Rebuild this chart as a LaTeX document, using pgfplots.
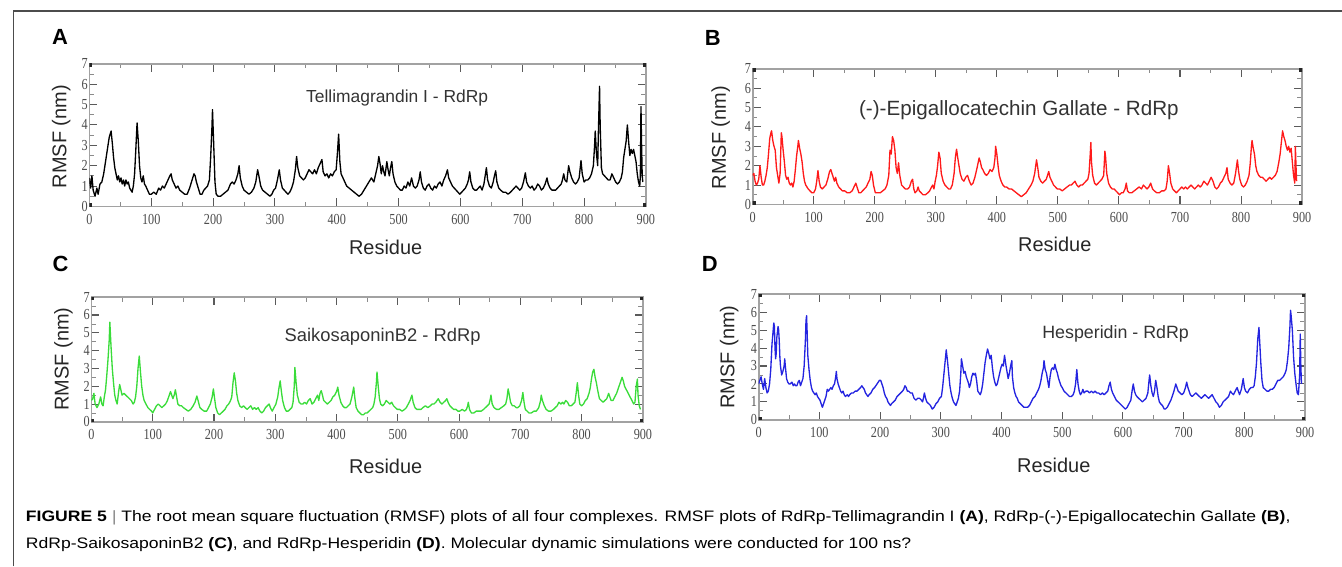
\documentclass[border=0pt]{standalone}
\usepackage{pgfplots}
\usepackage{pgfplotstable}
\pgfplotsset{compat=1.18}
\usepackage{fontspec}
\setmainfont{Liberation Sans}
\newfontfamily\tickfont{Liberation Serif}

\definecolor{framegray}{HTML}{A2A2A2}
\definecolor{tickgray}{HTML}{5A5A5A}
\definecolor{rmsfred}{HTML}{FF1A1A}
\definecolor{rmsfgreen}{HTML}{3ADC3A}
\definecolor{rmsfblue}{HTML}{2424E0}

% RMSF per residue
\pgfplotstableread[row sep=\\]{x y\\
0 1.4\\ 2 0.9\\ 4 1.5\\ 6 0.8\\ 9 0.5\\ 12 0.9\\ 14 0.6\\ 17 1.1\\ 20 1.2\\ 23 1.6\\ 26 2.2\\ 29 2.8\\ 32 3.4\\ 35 3.7\\ 37 3.1\\ 39 2.4\\
41 1.9\\ 43 1.6\\ 45 1.3\\ 47 1.5\\ 49 1.2\\ 51 1.4\\ 53 1.1\\ 55 1.3\\ 57 1.0\\ 59 1.3\\ 61 1.1\\ 63 1.2\\ 65 0.9\\ 67 0.8\\ 69 0.7\\ 71 1.0\\
73 1.6\\ 75 2.8\\ 77 4.1\\ 79 3.2\\ 81 2.0\\ 83 1.4\\ 85 1.2\\ 87 1.5\\ 89 1.1\\ 91 1.0\\ 94 0.8\\ 97 0.6\\ 100 0.6\\ 104 0.7\\ 108 0.6\\ 112 0.9\\
115 0.8\\ 118 1.0\\ 121 0.9\\ 124 1.1\\ 127 1.3\\ 130 1.5\\ 132 1.6\\ 134 1.3\\ 137 1.1\\ 140 0.9\\ 143 1.0\\ 146 0.8\\ 150 0.7\\ 154 0.6\\ 158 0.6\\ 162 0.9\\
166 1.3\\ 169 1.6\\ 171 1.5\\ 173 1.2\\ 176 0.9\\ 179 0.6\\ 182 0.6\\ 185 0.8\\ 188 0.9\\ 191 1.0\\ 194 1.3\\ 196 2.4\\ 198 3.8\\ 199 4.75\\ 201 3.0\\ 203 1.2\\
205 0.6\\ 208 0.5\\ 212 0.5\\ 216 0.6\\ 220 0.7\\ 224 0.8\\ 228 1.1\\ 231 1.2\\ 234 1.1\\ 237 1.3\\ 240 1.6\\ 242 2.0\\ 244 1.4\\ 247 1.0\\ 250 0.8\\ 254 0.7\\
258 0.6\\ 262 0.7\\ 266 0.9\\ 269 1.2\\ 272 1.8\\ 274 1.5\\ 277 1.0\\ 280 0.8\\ 284 0.7\\ 288 0.6\\ 292 0.5\\ 295 0.6\\ 298 0.8\\ 301 0.9\\ 304 1.3\\ 307 1.8\\
309 1.3\\ 312 0.9\\ 315 0.8\\ 318 0.7\\ 321 0.6\\ 324 0.7\\ 327 0.9\\ 330 1.2\\ 333 1.8\\ 335 2.45\\ 337 1.9\\ 340 1.5\\ 343 1.4\\ 346 1.3\\ 349 1.4\\ 352 1.6\\
355 1.8\\ 358 1.7\\ 361 1.6\\ 364 1.8\\ 367 1.6\\ 370 1.9\\ 373 2.1\\ 376 2.3\\ 378 1.7\\ 381 1.5\\ 384 1.6\\ 387 1.4\\ 390 1.6\\ 393 1.5\\ 396 1.7\\ 399 1.8\\
401 2.6\\ 403 3.55\\ 405 2.2\\ 407 1.6\\ 410 1.4\\ 413 1.2\\ 416 1.0\\ 420 0.9\\ 424 0.8\\ 428 0.7\\ 432 0.6\\ 436 0.5\\ 440 0.6\\ 444 0.8\\ 448 1.0\\ 452 1.2\\
456 1.4\\ 460 1.2\\ 463 1.6\\ 466 2.0\\ 468 2.45\\ 470 2.1\\ 472 1.6\\ 474 2.0\\ 476 1.7\\ 478 1.5\\ 481 2.2\\ 483 1.8\\ 485 1.5\\ 487 1.9\\ 489 2.2\\ 491 1.6\\
494 1.2\\ 497 1.0\\ 500 0.9\\ 503 0.8\\ 506 0.8\\ 509 1.0\\ 512 0.9\\ 515 1.2\\ 518 1.0\\ 521 1.4\\ 524 1.0\\ 527 0.9\\ 530 1.0\\ 533 1.3\\ 535 1.7\\ 537 1.2\\
540 0.9\\ 543 0.8\\ 546 1.0\\ 549 1.1\\ 552 0.9\\ 555 0.8\\ 558 1.0\\ 561 0.9\\ 564 1.1\\ 567 1.2\\ 570 1.0\\ 573 1.3\\ 576 1.5\\ 579 1.8\\ 581 1.4\\ 584 1.2\\
587 1.0\\ 590 0.9\\ 593 0.8\\ 596 0.7\\ 599 0.6\\ 602 0.7\\ 605 0.8\\ 608 0.9\\ 611 1.1\\ 613 1.3\\ 615 1.7\\ 617 1.2\\ 620 0.9\\ 623 0.8\\ 626 0.8\\ 629 0.9\\
632 1.0\\ 635 0.8\\ 638 1.1\\ 640 1.5\\ 642 1.9\\ 644 1.3\\ 647 1.0\\ 650 0.9\\ 653 1.2\\ 655 1.5\\ 657 1.75\\ 659 1.2\\ 662 0.9\\ 665 0.8\\ 669 0.7\\ 673 0.7\\
677 0.6\\ 681 0.7\\ 684 0.8\\ 687 0.9\\ 690 1.0\\ 693 0.9\\ 696 0.8\\ 699 0.9\\ 702 1.2\\ 705 1.65\\ 707 1.2\\ 710 1.0\\ 713 0.9\\ 716 1.0\\ 719 0.8\\ 722 0.9\\
725 1.1\\ 728 1.0\\ 731 0.8\\ 734 0.9\\ 737 1.1\\ 740 1.4\\ 742 1.1\\ 745 0.9\\ 748 0.8\\ 751 0.8\\ 754 0.8\\ 757 0.9\\ 760 1.0\\ 763 1.1\\ 765 1.3\\ 767 1.6\\
769 1.3\\ 772 1.2\\ 775 2.0\\ 777 1.7\\ 780 1.4\\ 783 1.2\\ 786 1.1\\ 789 1.2\\ 792 1.4\\ 795 2.25\\ 797 1.6\\ 800 1.2\\ 803 1.3\\ 806 1.3\\ 809 1.4\\ 812 1.6\\
815 2.0\\ 817 3.0\\ 818 3.7\\ 820 2.6\\ 822 2.0\\ 823 3.5\\ 825 5.9\\ 826 4.0\\ 828 1.9\\ 830 1.6\\ 833 1.5\\ 836 1.4\\ 839 1.3\\ 842 1.3\\ 845 1.6\\ 848 1.4\\
851 1.2\\ 854 1.1\\ 857 1.2\\ 860 1.4\\ 862 1.7\\ 864 2.4\\ 866 2.8\\ 868 3.2\\ 870 4.0\\ 872 3.2\\ 874 2.5\\ 876 2.8\\ 878 2.6\\ 880 2.8\\ 882 2.5\\ 884 2.2\\
886 1.6\\ 888 1.2\\ 890 1.0\\ 891 1.5\\ 892 4.9\\ 893 3.0\\ 894 1.5\\ 895 1.2\\
}\rmsfA

\pgfplotstableread[row sep=\\]{x y\\
0 1.5\\ 2 1.6\\ 4 1.2\\ 6 1.0\\ 8 1.1\\ 10 1.3\\ 12 2.0\\ 14 1.4\\ 16 1.0\\ 18 1.0\\ 20 1.2\\ 22 1.5\\ 24 1.9\\ 26 2.6\\ 28 3.4\\ 30 3.7\\
31 3.8\\ 33 3.3\\ 35 3.0\\ 37 2.8\\ 39 1.9\\ 41 1.5\\ 43 1.1\\ 45 1.6\\ 47 3.7\\ 48 3.5\\ 50 2.8\\ 52 2.2\\ 54 1.5\\ 56 1.3\\ 58 1.4\\ 60 1.1\\
62 1.0\\ 64 1.1\\ 66 0.9\\ 68 1.2\\ 70 1.8\\ 72 2.5\\ 74 3.0\\ 75 3.3\\ 77 2.9\\ 79 2.6\\ 81 2.2\\ 83 1.6\\ 85 1.2\\ 87 1.0\\ 89 0.9\\ 91 0.8\\
94 0.7\\ 97 0.6\\ 100 0.6\\ 103 0.8\\ 105 1.2\\ 107 1.75\\ 109 1.2\\ 111 0.9\\ 114 0.8\\ 117 0.9\\ 120 1.0\\ 123 1.3\\ 126 1.7\\ 128 1.8\\ 130 1.6\\ 132 1.4\\
134 1.2\\ 136 1.4\\ 138 1.1\\ 141 0.9\\ 144 0.8\\ 147 0.7\\ 151 0.7\\ 155 0.6\\ 159 0.6\\ 163 0.7\\ 166 0.9\\ 169 1.1\\ 171 0.9\\ 174 0.6\\ 177 0.6\\ 180 0.7\\
183 0.8\\ 186 0.9\\ 189 1.1\\ 192 1.3\\ 194 1.7\\ 196 1.5\\ 198 1.0\\ 201 0.6\\ 205 0.6\\ 209 0.6\\ 213 0.7\\ 217 0.8\\ 220 1.0\\ 223 1.5\\ 225 2.8\\ 227 2.6\\
229 3.5\\ 231 3.3\\ 233 2.8\\ 235 1.9\\ 237 1.6\\ 239 2.15\\ 241 1.5\\ 244 1.0\\ 247 0.9\\ 250 0.8\\ 254 0.8\\ 257 0.9\\ 260 1.2\\ 262 1.3\\ 264 0.8\\ 266 0.6\\
269 0.7\\ 271 0.9\\ 273 0.7\\ 276 0.6\\ 279 0.5\\ 283 0.5\\ 287 0.6\\ 290 0.7\\ 293 0.9\\ 295 1.0\\ 297 0.8\\ 299 1.2\\ 301 1.5\\ 303 2.0\\ 305 2.7\\ 307 2.4\\
309 1.6\\ 312 1.2\\ 315 1.0\\ 318 0.9\\ 321 0.8\\ 324 0.8\\ 327 1.0\\ 330 1.6\\ 332 2.4\\ 334 2.85\\ 336 2.4\\ 338 2.0\\ 340 1.6\\ 343 1.3\\ 346 1.2\\ 349 1.4\\
352 1.5\\ 355 1.2\\ 358 1.0\\ 361 1.1\\ 364 1.4\\ 367 1.8\\ 369 2.1\\ 371 2.4\\ 373 2.2\\ 375 1.9\\ 377 1.8\\ 380 1.6\\ 383 1.5\\ 386 1.6\\ 389 1.8\\ 392 1.7\\
395 1.9\\ 397 2.4\\ 398 3.0\\ 400 2.6\\ 402 2.0\\ 404 1.5\\ 407 1.2\\ 410 1.0\\ 413 0.9\\ 416 0.9\\ 420 0.8\\ 424 0.8\\ 428 0.7\\ 432 0.6\\ 436 0.5\\ 440 0.4\\
444 0.5\\ 448 0.6\\ 452 0.8\\ 456 1.0\\ 459 1.2\\ 462 1.6\\ 465 2.3\\ 467 1.9\\ 469 1.4\\ 472 1.2\\ 475 1.1\\ 478 1.2\\ 481 1.3\\ 483 1.5\\ 485 1.7\\ 487 1.4\\
490 1.2\\ 493 1.0\\ 496 0.9\\ 499 0.8\\ 503 0.8\\ 507 0.7\\ 511 0.8\\ 515 0.9\\ 519 1.0\\ 522 1.0\\ 525 1.1\\ 528 1.2\\ 531 1.0\\ 534 0.9\\ 537 1.0\\ 540 1.0\\
543 1.1\\ 546 1.2\\ 549 1.3\\ 551 1.6\\ 553 2.6\\ 554 3.2\\ 555 2.2\\ 557 1.5\\ 560 1.1\\ 563 1.0\\ 566 1.1\\ 569 1.2\\ 572 1.3\\ 575 1.5\\ 577 2.75\\ 578 2.5\\
580 1.6\\ 583 1.1\\ 586 0.9\\ 589 0.8\\ 592 0.8\\ 595 0.7\\ 598 0.6\\ 601 0.5\\ 604 0.6\\ 607 0.6\\ 610 0.8\\ 612 1.1\\ 614 0.7\\ 617 0.6\\ 621 0.6\\ 625 0.7\\
629 0.8\\ 633 0.9\\ 637 0.8\\ 640 1.0\\ 643 0.9\\ 646 0.8\\ 649 0.9\\ 652 1.1\\ 655 0.8\\ 658 0.7\\ 662 0.6\\ 666 0.6\\ 670 0.7\\ 674 0.7\\ 677 0.8\\ 679 1.2\\
681 2.0\\ 683 1.6\\ 685 1.1\\ 688 0.8\\ 691 0.7\\ 694 0.6\\ 697 0.7\\ 700 0.8\\ 703 0.9\\ 706 0.8\\ 709 0.9\\ 712 0.8\\ 715 0.9\\ 718 1.0\\ 721 0.9\\ 724 0.8\\
727 0.9\\ 730 1.0\\ 733 0.9\\ 736 1.0\\ 739 1.2\\ 742 1.1\\ 745 1.0\\ 748 1.2\\ 751 1.4\\ 754 1.2\\ 757 0.9\\ 760 0.8\\ 763 0.9\\ 766 1.1\\ 769 1.2\\ 772 1.4\\
775 1.6\\ 777 1.9\\ 779 1.3\\ 782 1.1\\ 785 1.0\\ 788 1.1\\ 791 1.6\\ 794 2.3\\ 796 1.7\\ 798 1.3\\ 801 1.0\\ 804 0.9\\ 807 1.0\\ 810 1.2\\ 813 1.5\\ 815 2.1\\
817 3.0\\ 818 3.3\\ 820 2.9\\ 822 2.6\\ 824 2.0\\ 826 1.7\\ 829 1.5\\ 832 1.4\\ 835 1.4\\ 838 1.3\\ 841 1.2\\ 844 1.3\\ 847 1.4\\ 850 1.3\\ 853 1.4\\ 856 1.5\\
859 1.7\\ 862 2.2\\ 864 2.6\\ 866 3.2\\ 868 3.8\\ 870 3.5\\ 872 3.3\\ 874 3.0\\ 876 2.8\\ 878 3.0\\ 880 2.7\\ 882 2.9\\ 884 2.2\\ 886 1.5\\ 888 1.1\\ 889 3.0\\
890 2.0\\ 891 1.2\\
}\rmsfB

\pgfplotstableread[row sep=\\]{x y\\
0 1.2\\ 2 1.3\\ 4 1.6\\ 6 1.0\\ 9 0.8\\ 12 1.0\\ 15 1.4\\ 17 1.0\\ 19 0.9\\ 21 1.4\\ 23 1.8\\ 25 2.6\\ 27 3.5\\ 29 4.6\\ 30 5.6\\ 32 4.2\\
34 3.0\\ 36 2.2\\ 38 1.5\\ 40 1.2\\ 42 1.0\\ 44 1.6\\ 46 2.1\\ 48 1.8\\ 50 1.5\\ 53 1.6\\ 56 1.5\\ 59 1.4\\ 62 1.3\\ 65 1.2\\ 68 1.0\\ 70 1.1\\
72 1.4\\ 74 2.0\\ 76 3.0\\ 78 3.7\\ 80 2.8\\ 82 2.0\\ 84 1.5\\ 86 1.2\\ 89 1.0\\ 92 0.8\\ 95 0.7\\ 98 0.6\\ 100 0.5\\ 103 0.7\\ 106 0.9\\ 109 1.0\\
112 0.9\\ 115 0.8\\ 118 0.9\\ 121 1.0\\ 124 1.2\\ 127 1.5\\ 129 1.7\\ 131 1.5\\ 133 1.3\\ 135 1.5\\ 137 1.8\\ 139 1.4\\ 141 1.0\\ 144 0.9\\ 147 0.9\\ 150 0.8\\
154 0.7\\ 158 0.6\\ 162 0.7\\ 166 0.9\\ 169 1.1\\ 172 1.45\\ 174 1.2\\ 177 0.8\\ 180 0.7\\ 184 0.6\\ 188 0.6\\ 191 0.8\\ 194 1.0\\ 197 1.4\\ 199 1.85\\ 201 1.3\\
203 0.8\\ 206 0.5\\ 209 0.4\\ 212 0.5\\ 215 0.6\\ 218 0.7\\ 221 0.9\\ 224 1.0\\ 227 1.2\\ 229 1.4\\ 231 2.2\\ 233 2.75\\ 235 2.3\\ 237 1.6\\ 239 1.2\\ 242 0.9\\
245 0.8\\ 248 0.9\\ 251 0.8\\ 254 0.7\\ 257 0.8\\ 260 0.9\\ 263 0.7\\ 266 0.8\\ 269 0.7\\ 272 0.8\\ 275 0.6\\ 278 0.5\\ 281 0.6\\ 284 0.8\\ 287 0.9\\ 290 1.0\\
292 0.8\\ 295 0.6\\ 298 0.8\\ 301 1.0\\ 304 1.4\\ 306 1.9\\ 308 2.3\\ 310 1.7\\ 312 1.2\\ 315 0.8\\ 318 0.6\\ 321 0.6\\ 324 0.7\\ 327 0.8\\ 329 1.1\\ 331 2.0\\
332 3.05\\ 334 2.2\\ 336 1.5\\ 339 1.1\\ 342 1.0\\ 345 1.0\\ 348 1.1\\ 351 1.0\\ 354 1.2\\ 357 1.3\\ 360 1.0\\ 363 1.1\\ 366 1.3\\ 369 1.5\\ 371 1.2\\ 373 1.6\\
375 1.75\\ 377 1.5\\ 379 1.2\\ 382 1.1\\ 385 1.0\\ 388 1.1\\ 391 1.2\\ 394 1.4\\ 397 1.5\\ 400 1.7\\ 402 1.95\\ 404 1.5\\ 407 1.1\\ 410 0.9\\ 413 0.8\\ 416 0.8\\
419 0.9\\ 422 1.0\\ 425 1.4\\ 428 1.95\\ 430 1.3\\ 432 0.8\\ 435 0.6\\ 438 0.5\\ 441 0.4\\ 444 0.4\\ 447 0.5\\ 450 0.5\\ 453 0.6\\ 456 0.7\\ 459 0.8\\ 461 1.0\\
463 1.4\\ 465 2.2\\ 466 2.8\\ 468 2.0\\ 470 1.3\\ 472 1.0\\ 475 0.9\\ 478 1.0\\ 481 1.2\\ 484 1.1\\ 487 1.0\\ 490 1.1\\ 493 0.9\\ 496 0.8\\ 499 0.7\\ 503 0.7\\
507 0.6\\ 511 0.7\\ 514 0.8\\ 517 1.0\\ 520 1.2\\ 523 1.5\\ 525 1.1\\ 528 0.8\\ 531 0.7\\ 535 0.7\\ 538 0.7\\ 541 0.8\\ 545 0.9\\ 549 0.8\\ 553 0.9\\ 556 1.0\\
559 1.0\\ 562 1.1\\ 566 1.3\\ 569 1.1\\ 572 1.0\\ 575 1.1\\ 578 1.2\\ 580 1.3\\ 582 1.1\\ 585 0.9\\ 588 0.8\\ 591 0.7\\ 595 0.7\\ 598 0.6\\ 601 0.6\\ 605 0.7\\
609 0.6\\ 612 0.7\\ 614 0.9\\ 615 1.1\\ 617 0.7\\ 620 0.5\\ 624 0.5\\ 628 0.6\\ 632 0.6\\ 636 0.6\\ 640 0.7\\ 643 0.8\\ 646 0.9\\ 649 1.0\\ 651 1.3\\ 652 1.5\\
654 1.0\\ 657 0.8\\ 661 0.7\\ 665 0.7\\ 669 0.8\\ 673 0.9\\ 676 1.0\\ 678 1.3\\ 680 1.85\\ 682 1.5\\ 684 1.1\\ 687 0.9\\ 690 0.9\\ 693 0.8\\ 696 0.8\\ 699 0.9\\
702 1.2\\ 704 1.65\\ 706 1.1\\ 708 0.7\\ 711 0.6\\ 714 0.5\\ 718 0.5\\ 722 0.6\\ 726 0.6\\ 730 0.8\\ 733 1.2\\ 734 1.5\\ 736 1.2\\ 739 0.9\\ 742 0.7\\ 746 0.6\\
750 0.6\\ 754 0.7\\ 757 0.8\\ 760 0.9\\ 763 1.1\\ 766 1.0\\ 769 1.1\\ 771 1.0\\ 774 1.2\\ 777 1.1\\ 780 0.9\\ 783 0.9\\ 786 1.0\\ 789 1.1\\ 791 1.6\\ 793 2.2\\
795 1.5\\ 797 1.0\\ 800 0.9\\ 803 1.0\\ 806 1.2\\ 809 1.3\\ 812 1.6\\ 814 1.9\\ 816 2.4\\ 818 2.8\\ 820 2.95\\ 822 2.5\\ 824 2.2\\ 826 1.8\\ 829 1.3\\ 832 1.2\\
835 1.1\\ 838 1.2\\ 841 1.3\\ 844 1.6\\ 846 1.4\\ 848 1.2\\ 851 1.2\\ 854 1.4\\ 857 1.6\\ 860 1.9\\ 863 2.2\\ 866 2.5\\ 868 2.3\\ 870 2.0\\ 873 1.8\\ 876 1.6\\
879 1.4\\ 882 1.2\\ 885 1.0\\ 887 1.1\\ 889 2.0\\ 891 2.4\\ 892 1.5\\ 894 0.9\\ 896 0.7\\
}\rmsfC

\pgfplotstableread[row sep=\\]{x y\\
0 2.0\\ 2 2.2\\ 4 2.4\\ 6 2.0\\ 8 1.7\\ 10 2.3\\ 12 1.8\\ 14 1.5\\ 16 1.6\\ 18 2.0\\ 20 2.8\\ 22 4.2\\ 24 5.0\\ 25 5.4\\ 26 5.2\\ 27 4.0\\
28 3.4\\ 29 3.7\\ 30 4.6\\ 32 5.2\\ 33 5.0\\ 34 4.4\\ 35 3.5\\ 36 3.0\\ 38 2.5\\ 40 2.7\\ 42 3.0\\ 43 3.4\\ 44 3.0\\ 46 2.3\\ 48 2.1\\ 50 2.0\\
52 2.0\\ 55 2.1\\ 57 1.9\\ 59 2.0\\ 61 1.9\\ 63 1.9\\ 65 2.1\\ 67 2.2\\ 69 1.9\\ 71 2.1\\ 73 2.3\\ 75 3.0\\ 77 4.4\\ 78 5.5\\ 79 5.8\\ 80 4.8\\
81 3.6\\ 83 2.8\\ 85 2.2\\ 87 1.8\\ 89 1.6\\ 91 1.5\\ 93 1.4\\ 95 1.5\\ 97 1.3\\ 99 1.2\\ 101 1.1\\ 103 0.9\\ 105 0.7\\ 107 0.9\\ 109 1.1\\ 111 1.3\\
113 1.7\\ 115 1.6\\ 117 1.7\\ 119 1.8\\ 121 1.7\\ 123 1.9\\ 125 2.0\\ 127 2.4\\ 128 2.7\\ 129 2.3\\ 131 2.0\\ 133 1.8\\ 135 1.6\\ 137 1.5\\ 139 1.6\\ 141 1.4\\
143 1.3\\ 146 1.4\\ 148 1.3\\ 150 1.4\\ 153 1.5\\ 156 1.5\\ 159 1.6\\ 162 1.6\\ 165 1.7\\ 168 1.8\\ 170 1.9\\ 172 1.8\\ 174 1.7\\ 176 1.5\\ 178 1.4\\ 180 1.3\\
182 1.4\\ 185 1.5\\ 188 1.7\\ 191 1.8\\ 193 1.9\\ 195 2.0\\ 197 2.1\\ 199 2.2\\ 201 2.2\\ 203 2.0\\ 205 1.8\\ 207 1.5\\ 209 1.3\\ 211 1.2\\ 213 1.0\\ 215 0.9\\
217 0.8\\ 219 0.9\\ 222 1.0\\ 225 1.1\\ 228 1.3\\ 231 1.4\\ 234 1.5\\ 237 1.6\\ 239 1.7\\ 241 1.9\\ 243 1.8\\ 245 1.6\\ 247 1.6\\ 250 1.5\\ 253 1.5\\ 256 1.2\\
259 1.1\\ 262 1.2\\ 265 1.2\\ 268 1.1\\ 270 1.0\\ 272 1.3\\ 273 1.5\\ 275 1.2\\ 277 1.0\\ 280 0.9\\ 283 0.8\\ 286 0.6\\ 289 0.7\\ 292 0.9\\ 295 1.0\\ 298 1.2\\
301 1.3\\ 303 1.8\\ 305 2.5\\ 307 3.2\\ 309 3.9\\ 311 3.3\\ 313 2.6\\ 315 1.9\\ 317 1.5\\ 319 1.2\\ 321 1.0\\ 323 0.9\\ 325 0.8\\ 327 1.0\\ 329 1.2\\ 331 1.6\\
333 2.6\\ 334 3.4\\ 336 3.0\\ 338 2.6\\ 340 2.7\\ 342 2.4\\ 344 2.2\\ 346 2.0\\ 347 1.8\\ 349 2.0\\ 351 2.4\\ 353 2.6\\ 355 2.5\\ 357 2.6\\ 359 2.2\\ 361 1.6\\
363 1.5\\ 365 1.4\\ 367 1.6\\ 369 2.0\\ 371 2.6\\ 373 3.2\\ 375 3.6\\ 377 3.95\\ 379 3.7\\ 381 3.4\\ 383 3.6\\ 385 2.9\\ 387 2.4\\ 389 2.1\\ 391 1.9\\ 393 2.0\\
395 2.3\\ 397 2.6\\ 399 2.9\\ 401 3.1\\ 403 3.0\\ 405 3.6\\ 407 3.1\\ 409 2.7\\ 411 2.3\\ 413 2.6\\ 415 3.0\\ 417 3.3\\ 418 2.4\\ 420 1.8\\ 422 1.5\\ 424 1.3\\
426 1.2\\ 428 1.0\\ 431 0.9\\ 434 0.8\\ 437 0.7\\ 440 0.7\\ 443 0.7\\ 446 0.8\\ 449 1.0\\ 452 1.2\\ 455 1.3\\ 458 1.5\\ 461 1.7\\ 463 1.9\\ 465 2.2\\ 467 2.6\\
469 2.9\\ 470 3.3\\ 472 2.8\\ 474 2.6\\ 476 2.2\\ 478 1.8\\ 480 2.4\\ 482 2.8\\ 484 2.9\\ 486 2.8\\ 488 3.1\\ 490 2.8\\ 492 2.6\\ 494 2.3\\ 496 2.1\\ 498 1.9\\
500 1.8\\ 503 1.6\\ 506 1.5\\ 509 1.4\\ 512 1.3\\ 515 1.3\\ 518 1.4\\ 520 1.6\\ 522 2.0\\ 524 2.8\\ 526 2.0\\ 528 1.6\\ 530 1.4\\ 532 1.5\\ 534 1.7\\ 536 1.5\\
539 1.6\\ 542 1.6\\ 545 1.5\\ 548 1.6\\ 551 1.5\\ 554 1.6\\ 557 1.5\\ 560 1.5\\ 563 1.4\\ 566 1.5\\ 569 1.4\\ 572 1.5\\ 575 1.6\\ 577 1.9\\ 579 2.1\\ 581 1.7\\
583 1.5\\ 586 1.3\\ 589 1.1\\ 592 1.0\\ 595 0.9\\ 598 0.8\\ 601 0.7\\ 604 0.6\\ 607 0.7\\ 610 0.9\\ 613 1.1\\ 615 1.6\\ 617 2.0\\ 619 1.6\\ 621 1.4\\ 623 1.3\\
626 1.2\\ 629 1.1\\ 632 1.0\\ 635 1.1\\ 638 1.2\\ 641 1.5\\ 643 2.2\\ 644 2.5\\ 646 1.9\\ 648 1.5\\ 650 1.3\\ 652 1.6\\ 654 2.2\\ 656 1.8\\ 658 1.3\\ 660 1.0\\
662 0.9\\ 665 0.8\\ 668 0.6\\ 670 0.6\\ 673 0.7\\ 676 0.9\\ 679 1.1\\ 681 1.3\\ 684 1.6\\ 687 2.0\\ 689 1.8\\ 691 1.6\\ 694 1.5\\ 697 1.4\\ 700 1.5\\ 703 1.8\\
705 2.1\\ 707 1.8\\ 709 1.6\\ 711 1.4\\ 714 1.3\\ 717 1.4\\ 720 1.5\\ 723 1.4\\ 726 1.3\\ 729 1.2\\ 732 1.3\\ 735 1.4\\ 738 1.3\\ 741 1.2\\ 744 1.3\\ 747 1.4\\
750 1.2\\ 753 1.0\\ 756 0.9\\ 759 0.7\\ 762 0.8\\ 765 1.0\\ 768 1.1\\ 771 1.2\\ 774 1.3\\ 777 1.6\\ 779 1.5\\ 782 1.4\\ 785 1.6\\ 788 1.8\\ 790 1.6\\ 792 1.4\\
795 1.7\\ 797 2.1\\ 798 2.3\\ 800 1.8\\ 802 1.6\\ 805 1.5\\ 808 1.7\\ 811 1.8\\ 814 1.8\\ 816 1.9\\ 818 2.4\\ 820 3.2\\ 822 4.5\\ 824 5.15\\ 825 4.5\\ 827 3.2\\
829 2.2\\ 831 1.8\\ 834 1.7\\ 837 1.6\\ 840 1.6\\ 843 1.7\\ 846 1.7\\ 849 1.8\\ 852 2.0\\ 855 2.2\\ 858 2.2\\ 861 2.3\\ 864 2.4\\ 867 2.6\\ 869 2.8\\ 871 3.3\\
873 4.0\\ 875 5.2\\ 876 6.1\\ 877 5.8\\ 879 5.0\\ 881 3.5\\ 883 2.6\\ 885 2.0\\ 887 1.5\\ 889 1.4\\ 891 2.5\\ 892 4.78\\ 893 3.0\\ 894 2.0\\
}\rmsfD

\pgfplotsset{
  rmsf/.style={
    scale only axis,
    xmin=0, xmax=900, ymin=0, ymax=7,
    xtick={0,100,...,900}, minor xtick={50,150,...,850},
    ytick={0,1,...,7}, minor ytick={0.5,1.5,...,6.5},
    tick align=inside,
    major tick length=6pt, minor tick length=3.5pt,
    axis line style={framegray, line width=1.4pt},
    every tick/.style={tickgray, line width=0.8pt},
    every minor tick/.style={tickgray!70, line width=0.6pt},
    /pgf/number format/assume math mode=true,
    ticklabel style={font=\tickfont\fontsize{11.5}{11.5}\selectfont, text=black!70},
    xticklabel={\scalebox{0.8}[1]{\pgfmathprintnumber{\tick}}},
    yticklabel={\scalebox{0.8}[1]{\pgfmathprintnumber{\tick}}},
    yticklabel style={inner xsep=0pt, inner ysep=0pt, xshift=-1pt},
    xticklabel style={inner ysep=0pt, yshift=-5.5pt},
    every axis plot/.append style={line width=1pt, line join=round, no markers},
    execute at end axis={
      \node[corner] at (rel axis cs:0,0) {};
      \node[corner] at (rel axis cs:0,1) {};
      \node[corner] at (rel axis cs:1,0) {};
      \node[corner] at (rel axis cs:1,1) {};
    },
  },
}
\tikzset{corner/.style={fill=black!85, inner sep=0pt, minimum size=4.5pt}}

\newsavebox\capone
\newsavebox\captwo
\newcommand\capfont{\fontsize{11.4}{11.4}\selectfont}
\savebox\capone{\capfont\textbf{FIGURE 5 $|$} The root mean square fluctuation (RMSF) plots of all four complexes. RMSF plots of RdRp-Tellimagrandin I \textbf{(A)}, RdRp-(-)-Epigallocatechin Gallate \textbf{(B)},}
\savebox\captwo{\capfont RdRp-SaikosaponinB2 \textbf{(C)}, and RdRp-Hesperidin \textbf{(D)}. Molecular dynamic simulations were conducted for 100 ns?}

\begin{document}
\pgfmathsetmacro\capscale{951pt/\wd\capone}
\begin{tikzpicture}
\useasboundingbox (0pt,0pt) rectangle (1006.5pt,-426pt);

\begin{axis}[rmsf, at={(64.5pt,-155.25pt)}, anchor=south west, width=418.5pt, height=107.25pt]
\addplot[black] table[x=x, y=y] {\rmsfA};
\end{axis}

\begin{axis}[rmsf, at={(563.25pt,-153.75pt)}, anchor=south west, width=413.25pt, height=102pt]
\addplot[rmsfred] table[x=x, y=y] {\rmsfB};
\end{axis}

\begin{axis}[rmsf, at={(66pt,-317.25pt)}, anchor=south west, width=414.75pt, height=93.75pt]
\addplot[rmsfgreen] table[x=x, y=y] {\rmsfC};
\end{axis}

\begin{axis}[rmsf, at={(567.75pt,-315.75pt)}, anchor=south west, width=411pt, height=94.5pt]
\addplot[rmsfblue] table[x=x, y=y] {\rmsfD};
\end{axis}

\begin{scope}[x=0.75pt, y=-0.75pt]
  % outer figure frame
  \draw[black!70, line width=0.9pt] (9.5,568) -- (9.5,11) -- (1342,11);

  % panel letters
  \foreach \lx/\ly/\lt in {56.5/37.5/A, 711/38/B, 57/265/C, 708/265/D}
    \node[font=\fontsize{16.5}{16.5}\selectfont\bfseries] at (\lx,\ly) {\lt};

  % titles inside the plots
  \node[font=\fontsize{13.1}{13.1}\selectfont, text=black!80] at (394.5,98) {Tellimagrandin I - RdRp};
  \node[font=\fontsize{15.5}{15.5}\selectfont, text=black!80] at (1018,110) {(-)-Epigallocatechin Gallate - RdRp};
  \node[font=\fontsize{13.8}{13.8}\selectfont, text=black!80] at (380,338) {SaikosaponinB2 - RdRp};
  \node[font=\fontsize{13.4}{13.4}\selectfont, text=black!80] at (1115,335) {Hesperidin - RdRp};

  % axis labels
  \foreach \lx/\ly in {57.6/137, 719/138, 60/360, 727.6/358}
    \node[rotate=90, font=\fontsize{15}{15}\selectfont, text=black!85] at (\lx,\ly) {RMSF (nm)};
  \foreach \lx/\ly in {383/248, 1054/245, 383/468, 1053/467}
    \node[font=\fontsize{15}{15}\selectfont, text=black!85] at (\lx,\ly) {Residue};

  % caption
  \node[anchor=base west, inner sep=0pt, text=black!85] at (22,523) {\scalebox{\capscale}[1]{\usebox\capone}};
  \node[anchor=base west, inner sep=0pt, text=black!85] at (22,550) {\scalebox{\capscale}[1]{\usebox\captwo}};
\end{scope}
\end{tikzpicture}
\end{document}
